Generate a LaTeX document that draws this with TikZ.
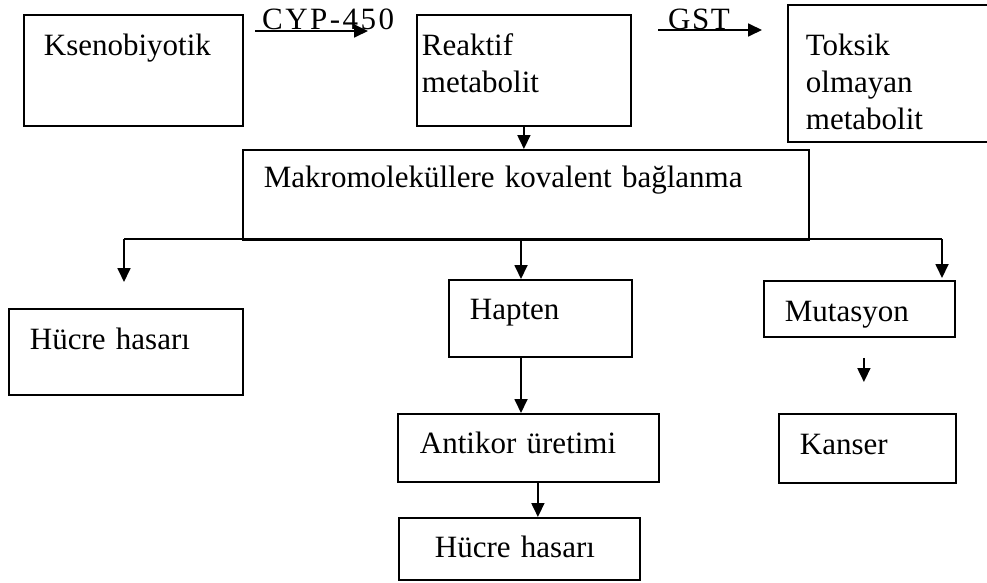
\documentclass[tikz,border=0pt]{standalone}
\usepackage{fontspec}
\setmainfont{Liberation Serif}
\usetikzlibrary{calc,arrows.meta,positioning}
\tikzset{kutu/.style={draw,line width=1.8pt,anchor=north west,inner ysep=0pt,inner xsep=21pt,align=left},
  ok/.style={-{Triangle[length=14pt,width=13pt]},line width=1.8pt},
  enzim/.style={anchor=base west,inner sep=0pt}}

\begin{document}
\begin{tikzpicture}[x=1pt,y=-1pt,font=\fontsize{31}{37}\selectfont]

\clip (0,0) rectangle (987,583);

% Nodes
\node[kutu,inner xsep=20pt,text width=179pt,text height=41pt,text depth=70pt] (kseno) at (23,14) {Ksenobiyotik};
\node[kutu,inner xsep=5pt,text width=204pt,text height=41pt,text depth=70pt] (reaktif) at (416,14) {Reaktif\\metabolit};
\node[kutu,inner xsep=18pt,text width=200pt,text height=51pt,text depth=86pt] (toksik) at (787,4) {Toksik\\olmayan\\metabolit};
\node[kutu,text width=524pt,text height=38pt,text depth=52pt] (makro) at (242,149) {Makromoleküllere kovalent bağlanma};
\node[kutu,text width=192pt,text height=41pt,text depth=45pt] (hucre-a) at (8,308) {Hücre hasarı};
\node[kutu,text width=141pt,text height=40pt,text depth=37pt] (hapten) at (448,279) {Hapten};
\node[kutu,text width=149pt,text height=41pt,text depth=15pt] (mutasyon) at (763,280) {Mutasyon};
\node[kutu,inner xsep=22pt,text width=217pt,text height=40pt,text depth=28pt] (antikor) at (397,413) {Antikor üretimi};
\node[kutu,inner xsep=36pt,text width=169pt,text height=40pt,text depth=22pt] (hucre-b) at (398,517) {Hücre hasarı};
\node[kutu,text width=135pt,text height=41pt,text depth=28pt] (kanser) at (778,413) {Kanser};

% Enzyme arrows
\coordinate (cyp-start) at (255,31);
\coordinate (cyp-end) at (368,31);
\coordinate (gst-start) at (658,30);
\coordinate (gst-end) at (762,30);
\draw[ok] (cyp-start) -- (cyp-end);
\draw[ok] (gst-start) -- (gst-end);
\node[enzim,font=\fontsize{31}{36}\selectfont\addfontfeatures{LetterSpace=8}] (cyp) at (262,30) {CYP-450};
\node[enzim,font=\fontsize{31}{36}\selectfont\addfontfeatures{LetterSpace=5}] (gst) at (668,30) {GST};

% Branches
\coordinate (br-left) at (124,239);
\coordinate (br-mid) at (521,239);
\coordinate (br-right) at (942,239);
\draw[ok] (reaktif.south) -- (reaktif.south |- makro.north);
\draw[line width=1.8pt] (br-left) -- (br-right);
\draw[ok,shorten >=26pt] (br-left) -- (br-left |- hucre-a.north);
\draw[ok] (br-mid) -- (br-mid |- hapten.north);
\draw[ok,shorten >=2pt] (br-right) -- (br-right |- mutasyon.north);

% Lower arrows
\draw[ok] (hapten.south -| br-mid) -- (antikor.north -| br-mid);
\draw[ok] ([xshift=9.5pt]antikor.south) -- ([xshift=9.5pt]antikor.south |- hucre-b.north);
\draw[ok,shorten <=20pt,shorten >=31pt] ([xshift=4.5pt]mutasyon.south) -- ([xshift=4.5pt]mutasyon.south |- kanser.north);

\end{tikzpicture}
\end{document}
